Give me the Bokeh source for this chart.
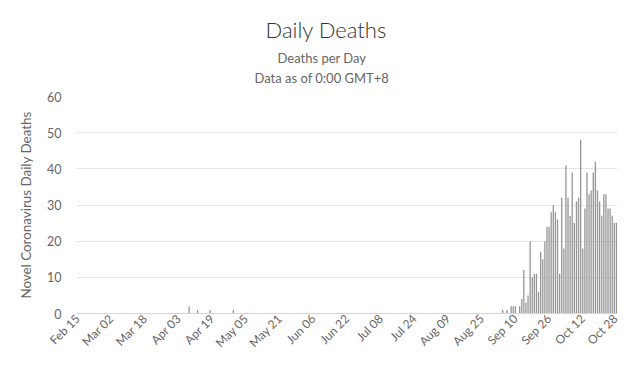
import math
import pandas as pd
from bokeh.plotting import figure
from bokeh.models import ColumnDataSource, FixedTicker, Title, Range1d
from bokeh.embed import file_html
from bokeh.resources import INLINE

start_date = "2020-02-15"
end_date = "2020-10-28"

tick_dates = ["2020-02-15", "2020-03-02", "2020-03-18", "2020-04-03", "2020-04-19",
              "2020-05-05", "2020-05-21", "2020-06-06", "2020-06-22", "2020-07-08",
              "2020-07-24", "2020-08-09", "2020-08-25", "2020-09-10", "2020-09-26",
              "2020-10-12", "2020-10-28"]
tick_labels = ["Feb 15", "Mar 02", "Mar 18", "Apr 03", "Apr 19", "May 05", "May 21",
               "Jun 06", "Jun 22", "Jul 08", "Jul 24", "Aug 09", "Aug 25", "Sep 10",
               "Sep 26", "Oct 12", "Oct 28"]

death_dates = ["2020-04-08", "2020-04-12", "2020-04-18", "2020-04-29",
               "2020-09-04", "2020-09-06", "2020-09-08", "2020-09-09", "2020-09-10",
               "2020-09-12", "2020-09-13", "2020-09-14", "2020-09-15", "2020-09-16",
               "2020-09-17", "2020-09-18", "2020-09-19", "2020-09-20", "2020-09-21",
               "2020-09-22", "2020-09-23", "2020-09-24", "2020-09-25", "2020-09-26",
               "2020-09-27", "2020-09-28", "2020-09-29", "2020-09-30", "2020-10-01",
               "2020-10-02", "2020-10-03", "2020-10-04", "2020-10-05", "2020-10-06",
               "2020-10-07", "2020-10-08", "2020-10-09", "2020-10-10", "2020-10-11",
               "2020-10-12", "2020-10-13", "2020-10-14", "2020-10-15", "2020-10-16",
               "2020-10-17", "2020-10-18", "2020-10-19", "2020-10-20", "2020-10-21",
               "2020-10-22", "2020-10-23", "2020-10-24", "2020-10-25", "2020-10-26",
               "2020-10-27", "2020-10-28"]
deaths = [2, 1, 1, 1,
          1, 1, 2, 2, 2,
          2, 4, 12, 3, 5,
          20, 10, 11, 11, 6,
          17, 15, 20, 24, 24,
          28, 30, 28, 26, 11,
          32, 18, 41, 32, 27,
          39, 25, 31, 32, 48,
          18, 29, 39, 33, 34,
          39, 42, 34, 31, 27,
          33, 33, 29, 29, 27,
          25, 25]

y_ticks = [0, 10, 20, 30, 40, 50, 60]

t0 = pd.Timestamp(start_date)
def day_index(d):
    return (pd.Timestamp(d) - t0).days

x_vals = [day_index(d) for d in death_dates]
n_days = day_index(end_date)
tick_pos = [day_index(d) for d in tick_dates]

FONT = "Lato"
GREY_TEXT = "#666666"

p = figure(width=620, height=358, output_backend="svg", toolbar_location=None,
           x_range=Range1d(-0.5, n_days + 0.5), y_range=Range1d(0, 60),
           min_border_left=76, min_border_right=3, min_border_top=96,
           min_border_bottom=45)
p.outline_line_color = None
p.background_fill_color = "white"
p.border_fill_color = "white"

src = ColumnDataSource(dict(x=x_vals, y=deaths))
p.vbar(x="x", top="y", width=0.62, bottom=0, source=src,
       fill_color="#969696", line_color=None)

# axes
p.xgrid.grid_line_color = None
p.ygrid.grid_line_color = "#e6e6e6"
p.ygrid.ticker = FixedTicker(ticks=y_ticks)

p.yaxis.ticker = FixedTicker(ticks=y_ticks)
p.yaxis.axis_line_color = None
p.yaxis.major_tick_line_color = None
p.yaxis.minor_tick_line_color = None
p.yaxis.major_tick_out = 0
p.yaxis.major_tick_in = 0
p.yaxis.major_label_standoff = 15
p.yaxis.major_label_text_font = FONT
p.yaxis.major_label_text_font_size = "12.5px"
p.yaxis.major_label_text_color = GREY_TEXT
p.yaxis.axis_label = "Novel Coronavirus Daily Deaths"
p.yaxis.axis_label_standoff = 10
p.yaxis.axis_label_text_font = FONT
p.yaxis.axis_label_text_font_size = "13.4px"
p.yaxis.axis_label_text_font_style = "normal"
p.yaxis.axis_label_text_color = GREY_TEXT

p.xaxis.ticker = FixedTicker(ticks=tick_pos)
p.xaxis.major_label_overrides = {pos: lab for pos, lab in zip(tick_pos, tick_labels)}
p.xaxis.major_label_orientation = math.pi / 4
p.xaxis.axis_line_color = "#ccd6eb"
p.xaxis.major_tick_line_color = None
p.xaxis.minor_tick_line_color = None
p.xaxis.major_tick_out = 0
p.xaxis.major_tick_in = 0
p.xaxis.major_label_standoff = 3
p.xaxis.major_label_text_font = FONT
p.xaxis.major_label_text_font_size = "12px"
p.xaxis.major_label_text_color = GREY_TEXT

# titles (first added = closest to the plot frame)
p.add_layout(Title(text=" ", text_font_size="6px", standoff=0), "above")
p.add_layout(Title(text="Data as of 0:00 GMT+8", align="left", offset=178,
                   standoff=5, text_font=FONT, text_font_size="13px",
                   text_font_style="normal", text_color=GREY_TEXT), "above")
p.add_layout(Title(text="Deaths per Day", align="left", offset=201,
                   standoff=0, text_font=FONT, text_font_size="13px",
                   text_font_style="normal", text_color=GREY_TEXT), "above")
p.add_layout(Title(text="Daily Deaths", align="left", offset=189,
                   standoff=9, text_font="Lato Light", text_font_size="22px",
                   text_font_style="normal", text_color="#333333"), "above")

open("out.html", "w").write(file_html(p, INLINE))
